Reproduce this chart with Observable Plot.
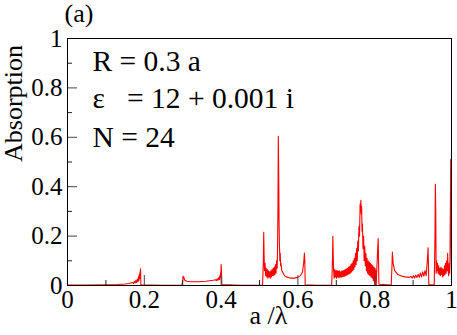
<!DOCTYPE html>
<html><head><meta charset="utf-8">
<script src="https://cdn.jsdelivr.net/npm/d3@7"></script>
<script src="https://cdn.jsdelivr.net/npm/@observablehq/plot@0.6"></script>
<style>body{margin:0;background:#fff} svg{display:block} svg text{font-family:"Liberation Serif","Times New Roman",serif !important;}</style>
</head><body><div id="chart"></div>
<script>
// [a/lambda, absorption]
const spectrum = [
  [0,0.002],[0.05,0.002],[0.10,0.003],[0.13,0.004],[0.15,0.006],[0.16,0.008],
  [0.17,0.012],[0.172,0.008],[0.174,0.016],[0.176,0.01],[0.178,0.02],[0.18,0.012],[0.182,0.026],[0.184,0.015],
  [0.185,0.035],[0.186,0.02],[0.187,0.045],[0.188,0.028],[0.189,0.055],[0.1895,0.04],[0.19,0.068],[0.1905,0.06],[0.191,0.003],
  [0.25,0.001],[0.298,0.001],[0.300,0.02],[0.301,0.038],[0.302,0.028],[0.303,0.034],[0.305,0.022],[0.31,0.017],
  [0.32,0.015],[0.34,0.015],[0.36,0.017],[0.37,0.019],[0.38,0.021],[0.385,0.023],[0.388,0.02],[0.39,0.027],
  [0.392,0.021],[0.394,0.032],[0.396,0.024],[0.397,0.04],[0.398,0.03],[0.399,0.055],[0.3995,0.04],[0.400,0.085],[0.401,0.06],[0.402,0.004],
  [0.45,0.001],[0.508,0.001],[0.510,0.1],[0.511,0.215],[0.512,0.12],
  [0.513,0.06],[0.5145,0.09],[0.516,0.04],[0.5175,0.07],[0.519,0.035],[0.5205,0.065],[0.522,0.03],[0.5235,0.06],
  [0.525,0.035],[0.5265,0.055],[0.528,0.03],[0.5295,0.06],[0.531,0.035],[0.5325,0.065],[0.534,0.04],[0.5355,0.07],
  [0.537,0.04],[0.5385,0.075],[0.54,0.045],[0.5415,0.085],[0.543,0.05],[0.5445,0.1],[0.546,0.07],[0.547,0.15],
  [0.548,0.3],[0.549,0.604],[0.550,0.45],[0.551,0.25],[0.552,0.16],[0.553,0.1],[0.554,0.13],[0.555,0.08],[0.556,0.09],
  [0.558,0.06],[0.56,0.055],[0.565,0.04],[0.57,0.035],[0.58,0.03],[0.59,0.03],[0.60,0.033],[0.607,0.04],[0.612,0.055],
  [0.615,0.09],[0.617,0.131],[0.618,0.1],[0.619,0.003],
  [0.65,0.001],[0.688,0.001],[0.690,0.1],[0.691,0.199],[0.692,0.12],
  [0.693,0.06],[0.6945,0.03],[0.696,0.065],[0.6975,0.035],[0.699,0.06],[0.7005,0.03],[0.702,0.062],[0.7035,0.035],
  [0.705,0.058],[0.7065,0.032],[0.708,0.06],[0.7095,0.035],[0.711,0.055],[0.7125,0.033],[0.714,0.058],[0.7155,0.036],
  [0.717,0.06],[0.7185,0.037],[0.72,0.062],[0.7215,0.038],[0.723,0.065],[0.7245,0.04],[0.726,0.068],[0.7275,0.042],
  [0.729,0.07],[0.7305,0.045],[0.732,0.075],[0.7335,0.047],[0.735,0.078],[0.7365,0.05],[0.738,0.085],[0.7395,0.055],
  [0.741,0.09],[0.7425,0.06],[0.744,0.1],[0.7455,0.065],[0.747,0.11],[0.7485,0.075],[0.75,0.13],[0.7515,0.085],
  [0.753,0.15],[0.7545,0.1],[0.756,0.18],[0.7575,0.14],[0.759,0.24],[0.7605,0.2],[0.762,0.33],[0.763,0.3],[0.764,0.345],
  [0.765,0.29],[0.766,0.32],[0.767,0.22],[0.768,0.25],[0.7695,0.15],[0.771,0.2],[0.7725,0.1],[0.774,0.16],[0.7755,0.08],
  [0.777,0.13],[0.7785,0.06],[0.78,0.11],[0.7815,0.05],[0.783,0.1],[0.7845,0.045],[0.786,0.095],[0.7875,0.04],
  [0.789,0.09],[0.7905,0.035],[0.792,0.085],[0.7935,0.03],[0.795,0.08],[0.7965,0.02],[0.798,0.075],[0.7995,0.01],
  [0.801,0.07],[0.802,0.0],[0.803,0.06],[0.804,0.0],[0.805,0.05],[0.807,0.12],[0.809,0.19],[0.810,0.1],[0.811,0.005],
  [0.843,0.002],[0.845,0.08],[0.846,0.135],[0.848,0.09],[0.852,0.06],[0.86,0.045],[0.87,0.038],[0.88,0.035],
  [0.89,0.033],[0.895,0.036],[0.898,0.03],[0.901,0.04],[0.904,0.03],[0.907,0.042],[0.91,0.032],[0.913,0.045],
  [0.916,0.033],[0.919,0.05],[0.922,0.035],[0.925,0.055],[0.928,0.038],[0.931,0.06],[0.934,0.04],[0.936,0.08],
  [0.938,0.12],[0.939,0.153],[0.940,0.08],[0.941,0.004],
  [0.955,0.002],[0.957,0.2],[0.958,0.41],[0.959,0.3],
  [0.960,0.05],[0.961,0.1],[0.962,0.06],[0.9635,0.09],[0.965,0.05],[0.9665,0.08],[0.968,0.045],[0.9695,0.07],
  [0.971,0.04],[0.9725,0.075],[0.974,0.045],[0.9755,0.07],[0.977,0.035],[0.9785,0.065],[0.98,0.04],[0.9815,0.08],
  [0.983,0.045],[0.9845,0.09],[0.986,0.05],[0.9875,0.1],[0.989,0.06],[0.990,0.13],[0.991,0.07],[0.9925,0.04],
  [0.994,0.09],[0.995,0.05],[0.996,0.1],[0.997,0.3],[0.998,0.51],[0.999,0.2],[1.0,0.05]
];
const xTicks = [0, 0.2, 0.4, 0.6, 0.8, 1];
const xMinor = [0.1, 0.3, 0.5, 0.7, 0.9];
const yTicks = [0, 0.2, 0.4, 0.6, 0.8, 1];
const yMinor = [0.1, 0.3, 0.5, 0.7, 0.9];
const panelLabel = "(a)";
const xLabel = "a /λ";
const yLabel = "Absorption";
const annotations = ["R = 0.3 a", "ε\u00a0\u00a0\u00a0= 12 + 0.001 i", "N = 24"];

const data = spectrum.map(([x, y]) => ({x, y}));
const W = 457, H = 335, ML = 67, MR = 6, MT = 38, MB = 50;
const PW = W - ML - MR, PH = H - MT - MB;
const FF = "Liberation Serif, Times New Roman, serif";

const chart = Plot.plot({
  width: W, height: H,
  marginLeft: ML, marginRight: MR, marginTop: MT, marginBottom: MB,
  style: {fontFamily: FF, background: "white", color: "black", overflow: "visible"},
  x: {domain: [0, 1]},
  y: {domain: [0, 1]},
  marks: [
    Plot.line(data, {x: "x", y: "y", stroke: "#ff0000", strokeWidth: 1.1}),
    Plot.tickX(xTicks, {x: d => d, insetTop: PH - 10, stroke: "#444"}),
    Plot.tickX(xMinor, {x: d => d, insetTop: PH - 5, stroke: "#222"}),
    Plot.tickY(yTicks, {y: d => d, insetRight: PW - 10, stroke: "#444"}),
    Plot.tickY(yMinor, {y: d => d, insetRight: PW - 5, stroke: "#222"}),
    Plot.frame({stroke: "black"}),
    Plot.axisX({ticks: xTicks, tickSize: 0, tickPadding: 5, tickFormat: d => String(d), fontSize: 25, fontFamily: FF, label: null}),
    Plot.axisY({ticks: yTicks, tickSize: 0, tickPadding: 5, tickFormat: d => String(d), fontSize: 25, fontFamily: FF, label: null}),
    Plot.text([xLabel], {frameAnchor: "bottom", dx: 9, dy: 38, fontSize: 26, fontFamily: FF, text: d => d}),
    Plot.text([yLabel], {frameAnchor: "left", rotate: -90, dx: -54, dy: 0, fontSize: 26, fontFamily: FF, text: d => d}),
    Plot.text([panelLabel], {frameAnchor: "top-left", textAnchor: "start", lineAnchor: "bottom", dx: -3, dy: -17, fontSize: 26, fontFamily: FF, text: d => d}),
    Plot.text([annotations[0]], {frameAnchor: "top-left", textAnchor: "start", lineAnchor: "bottom", dx: 25, dy: 32, fontSize: 29.5, fontFamily: FF, text: d => d}),
    Plot.text([annotations[1]], {frameAnchor: "top-left", textAnchor: "start", lineAnchor: "bottom", dx: 25, dy: 69, fontSize: 29.5, fontFamily: FF, text: d => d}),
    Plot.text([annotations[2]], {frameAnchor: "top-left", textAnchor: "start", lineAnchor: "bottom", dx: 25, dy: 108, fontSize: 29.5, fontFamily: FF, text: d => d})
  ]
});
document.getElementById("chart").appendChild(chart);
</script>
</body></html>
